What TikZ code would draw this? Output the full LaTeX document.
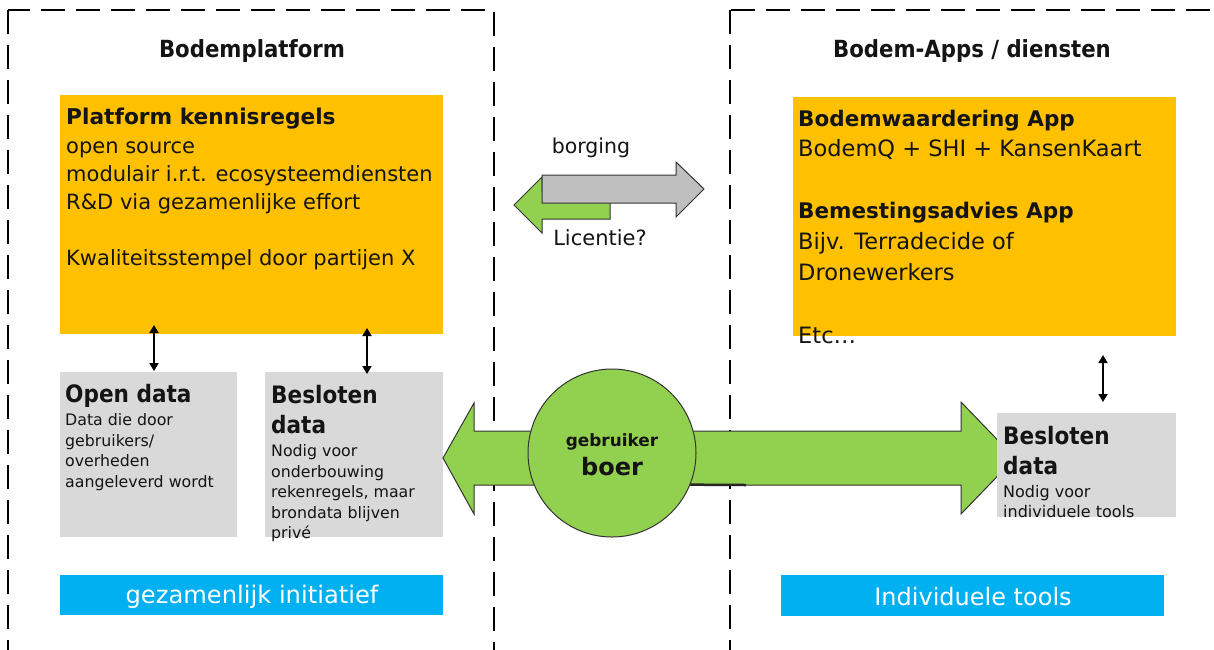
\documentclass[tikz,border=0pt]{standalone}
\usepackage{fontspec}
\setmainfont{DejaVu Sans}
\newfontfamily\narrowfam{DejaVu Sans}[FakeStretch=0.9]
\usetikzlibrary{arrows.meta}
\definecolor{orng}{HTML}{FFC000}
\definecolor{lgrey}{HTML}{D9D9D9}
\definecolor{skyb}{HTML}{00B0F0}
\definecolor{lgreen}{HTML}{92D050}
\definecolor{agrey}{HTML}{BFBFBF}
\definecolor{txt}{HTML}{141414}
\tikzset{
  dashbox/.style={draw=black, line width=2.5pt, dash pattern=on 24pt off 11pt},
  fillbox/.style={anchor=north west, inner sep=0pt, outer sep=0pt},
  ln/.style={anchor=base west, inner sep=0pt, text=txt},
  lnc/.style={anchor=base, inner sep=0pt, text=txt},
  big/.style={font=\fontsize{21}{24}\selectfont},
  bigb/.style={font=\fontsize{21.7}{24}\selectfont\bfseries},
  rbig/.style={font=\fontsize{22.5}{26}\selectfont},
  rbigb/.style={font=\fontsize{21.5}{24}\selectfont\bfseries},
  titl/.style={font=\narrowfam\fontsize{23.6}{26}\selectfont\bfseries},
  small/.style={font=\fontsize{15.8}{18}\selectfont},
  hd/.style={font=\narrowfam\fontsize{24}{28}\selectfont\bfseries},
  dbl/.style={line width=1.8pt, {Triangle[length=8pt,width=9pt]}-{Triangle[length=8pt,width=9pt]}},
  greenarrow/.style={fill=lgreen, draw=black!80, line width=1pt},
  greyarrow/.style={fill=agrey, draw=black!80, line width=1pt},
}
\begin{document}
\begin{tikzpicture}[x=1pt,y=-1pt]
\useasboundingbox (0,0) rectangle (1214,649);
\clip (0,0) rectangle (1214,649);
\fill[white] (0,0) rectangle (1214,649);

% dashed frames
\draw[dashbox] (8,10) rectangle (494,690);
\draw[dashbox] (730,10) rectangle (1270,690);

% titles
\node[lnc, titl] (t1) at (252,57) {Bodemplatform};
\node[lnc, titl] (t2) at (972,57) {Bodem-Apps / diensten};

% left orange box
\node[fillbox, fill=orng, minimum width=383pt, minimum height=239pt] (platbox) at (60,95) {};
\node[ln, bigb] (p0) at (66,124) {Platform kennisregels};
\node[ln, big] (p1) at (66,153) {open source};
\node[ln, big] (p2) at (66,181) {modulair i.r.t. ecosysteemdiensten};
\node[ln, big] (p3) at (66,209) {R\&D via gezamenlijke effort};
\node[ln, big] (p4) at (66,265.5) {Kwaliteitsstempel door partijen X};

% grey boxes left
\node[fillbox, fill=lgrey, minimum width=177pt, minimum height=165pt] (openbox) at (60,372) {};
\node[ln, hd] (o0) at (65,402.5) {Open data};
\node[ln, small] (o1) at (65,425.5) {Data die door};
\node[ln, small] (o2) at (65,446) {gebruikers/};
\node[ln, small] (o3) at (65,466.5) {overheden};
\node[ln, small] (o4) at (65,487) {aangeleverd wordt};

\node[fillbox, fill=lgrey, minimum width=178pt, minimum height=165pt] (beslbox) at (265,372) {};
\node[ln, hd] (b0) at (271,403) {Besloten};
\node[ln, hd] (b1) at (271,433) {data};
\node[ln, small] (b2) at (271,456.5) {Nodig voor};
\node[ln, small] (b3) at (271,477) {onderbouwing};
\node[ln, small] (b4) at (271,497.5) {rekenregels, maar};
\node[ln, small] (b5) at (271,518) {brondata blijven};
\node[ln, small] (b6) at (271,538.5) {privé};

% small double arrows left
\coordinate (a1t) at (154,325);
\coordinate (a1b) at (154,371);
\coordinate (a2t) at (367,328);
\coordinate (a2b) at (367,374);
\draw[dbl] (a1t) -- (a1b);
\draw[dbl] (a2t) -- (a2b);

% blue boxes
\node[fillbox, fill=skyb, minimum width=383pt, minimum height=40pt] (blue1) at (60,575) {};
\node[lnc, text=white, font=\fontsize{24.2}{28}\selectfont] (bl1) at (252,603) {gezamenlijk initiatief};
\node[fillbox, fill=skyb, minimum width=383pt, minimum height=41pt] (blue2) at (781,575) {};
\node[lnc, text=white, font=\fontsize{24}{28}\selectfont] (bl2) at (973,605) {Individuele tools};

% middle arrows
\node[lnc, font=\fontsize{20.5}{24}\selectfont] (borg) at (591,153) {borging};
\node[lnc, font=\fontsize{21}{24}\selectfont] (lic) at (600,245) {Licentie?};
\draw[greenarrow] (514,205) -- (542,177) -- (542,191) -- (610,191) -- (610,219) -- (542,219) -- (542,233) -- cycle;
\draw[greyarrow] (542,175) -- (676,175) -- (676,162) -- (704,189) -- (676,217) -- (676,203) -- (542,203) -- cycle;

% right orange box
\node[fillbox, fill=orng, minimum width=383pt, minimum height=239pt] (appbox) at (793,97) {};
\node[ln, rbigb] (r0) at (798,126) {Bodemwaardering App};
\node[ln, rbig] (r1) at (798,156.5) {BodemQ + SHI + KansenKaart};
\node[ln, rbigb] (r2) at (798,218.5) {Bemestingsadvies App};
\node[ln, rbig] (r3) at (798,249.5) {Bijv. Terradecide of};
\node[ln, rbig] (r4) at (798,280.5) {Dronewerkers};
\node[ln, rbig] (r5) at (798,343.5) {Etc…};

% right small arrow
\coordinate (a3t) at (1103,355);
\coordinate (a3b) at (1103,402);
\draw[dbl] (a3t) -- (a3b);

% big green double arrow
\draw[greenarrow] (443,458) -- (474,403) -- (474,431) -- (961,431) -- (961,402) -- (1015,458)
  -- (961,514) -- (961,485) -- (474,485) -- (474,514) -- cycle;
\node[circle, fill=lgreen, draw=black!80, line width=1pt, minimum size=168pt, inner sep=0pt] (circ) at (612,453) {};
\node[lnc, font=\fontsize{16.9}{20}\selectfont\bfseries] (geb) at (612,446) {gebruiker};
\node[lnc, font=\fontsize{24}{28}\selectfont\bfseries] (boer) at (612,475) {boer};
\coordinate (ul) at (746,485);
\draw[line width=2.5pt, black!85] (circ.-22.4) -- (ul);

% right grey box
\node[fillbox, fill=lgrey, minimum width=179pt, minimum height=104pt] (rbesl) at (997,413) {};
\node[ln, hd] (rb0) at (1003,444.5) {Besloten};
\node[ln, hd] (rb1) at (1003,474) {data};
\node[ln, font=\fontsize{16}{18}\selectfont] (rb2) at (1003,497.5) {Nodig voor};
\node[ln, font=\fontsize{16}{18}\selectfont] (rb3) at (1003,517.5) {individuele tools};
\end{tikzpicture}
\end{document}
